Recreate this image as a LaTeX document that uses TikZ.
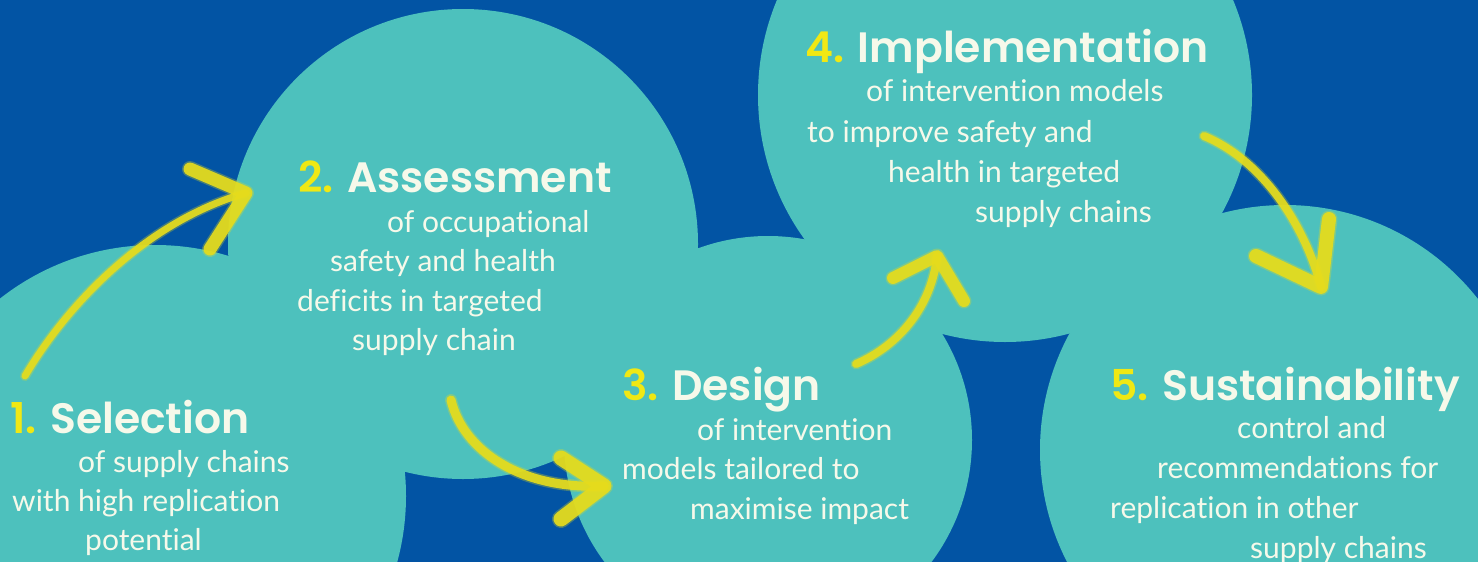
\documentclass[tikz,border=0pt]{standalone}
\usepackage{fontspec}
\newfontfamily\headfont{Poppins}[BoldFont={Poppins SemiBold}]
\newfontfamily\bodyfont{Lato}[Ligatures=NoCommon]
\definecolor{bgblue}{HTML}{0254A4}
\definecolor{blobteal}{HTML}{4DC1BD}
\definecolor{chalkY}{HTML}{E6DC1C}
\definecolor{numY}{HTML}{F0E814}
\definecolor{ink}{HTML}{F6F9EA}
\tikzset{
  blob/.style={circle, fill=blobteal, inner sep=0pt, minimum size=#1},
  head/.style={anchor=base west, inner sep=0pt, text=ink, font=\headfont\bfseries\fontsize{42.5}{42.5}\selectfont},
  body/.style={anchor=base west, inner sep=0pt, text=ink, font=\bodyfont\fontsize{30}{30}\selectfont},
  chalk/.style={line width=#1, line cap=round, line join=round, draw=chalkY, opacity=0.92,
    preaction={draw=chalkY, line width=#1+3pt, line cap=round, line join=round, opacity=0.3}},
  chalk/.default=9pt
}
\newcommand{\num}[1]{\textcolor{numY}{#1}}
\begin{document}
\begin{tikzpicture}[x=1pt, y=-1pt]
\useasboundingbox (0,0) rectangle (1478,562);
\clip (0,0) rectangle (1478,562);
\fill[bgblue] (0,0) rectangle (1478,562);

% overlapping circles
\node[blob=502pt] (c1) at (155,496) {};
\node[blob=470pt] (c2) at (463,244) {};
\node[blob=408pt] (c3) at (768,440) {};
\node[blob=494pt] (c4) at (1005,95) {};
\node[blob=490pt] (c5) at (1285,450) {};

% step 1
\node[head] (t1) at (10,433) {\num{1.} Selection};
\node[body] (b1a) at (78,472) {of supply chains};
\node[body] (b1b) at (12,511) {with high replication};
\node[body] (b1c) at (85,550) {potential};

% step 2
\node[head] (t2) at (298,192) {\num{2.} Assessment};
\node[body] (b2a) at (387,232) {of occupational};
\node[body] (b2b) at (330,271) {safety and health};
\node[body] (b2c) at (297,311) {deficits in targeted};
\node[body] (b2d) at (352,350) {supply chain};

% step 3
\node[head] (t3) at (622,400) {\num{3.} Design};
\node[body] (b3a) at (697,440) {of intervention};
\node[body] (b3b) at (622,479) {models tailored to};
\node[body] (b3c) at (690,519) {maximise impact};

% step 4
\node[head] (t4) at (805,62) {\num{4.} Implementation};
\node[body] (b4a) at (866,101) {of intervention models};
\node[body] (b4b) at (807,142) {to improve safety and};
\node[body] (b4c) at (888,182) {health in targeted};
\node[body] (b4d) at (975,222) {supply chains};

% step 5
\node[head] (t5) at (1110,400) {\num{5.} Sustainability};
\node[body] (b5a) at (1237,438) {control and};
\node[body] (b5b) at (1157,478) {recommendations for};
\node[body] (b5c) at (1110,518) {replication in other};
\node[body] (b5d) at (1250,558) {supply chains};

% chalk arrows between the steps
\coordinate (a1s) at (25,376);  \coordinate (a1e) at (246,193);
\coordinate (a1l) at (190,169); \coordinate (a1r) at (210,249);
\draw[chalk=7pt] (a1s) .. controls (70,300) and (150,220) .. (a1e);
\draw[chalk=13pt] (a1l) -- (a1e) -- (a1r);

\coordinate (a2s) at (451,400); \coordinate (a2e) at (604,486);
\coordinate (a2l) at (561,458); \coordinate (a2r) at (561,519);
\draw[chalk=9pt] (a2s) .. controls (463,450) and (520,490) .. (a2e);
\draw[chalk=15pt] (a2l) -- (a2e) -- (a2r);

\coordinate (a3s) at (856,364); \coordinate (a3e) at (937,256);
\coordinate (a3l) at (893,278); \coordinate (a3r) at (964,301);
\draw[chalk=8pt] (a3s) .. controls (900,345) and (932,305) .. (a3e);
\draw[chalk=12pt] (a3l) -- (a3e) -- (a3r);

\coordinate (a4s) at (1204,136); \coordinate (a4e) at (1321,287);
\coordinate (a4l) at (1256,256); \coordinate (a4r) at (1329,219);
\draw[chalk=8pt] (a4s) .. controls (1262,160) and (1305,225) .. (a4e);
\draw[chalk=14pt] (a4l) -- (a4e) -- (a4r);
\end{tikzpicture}
\end{document}
